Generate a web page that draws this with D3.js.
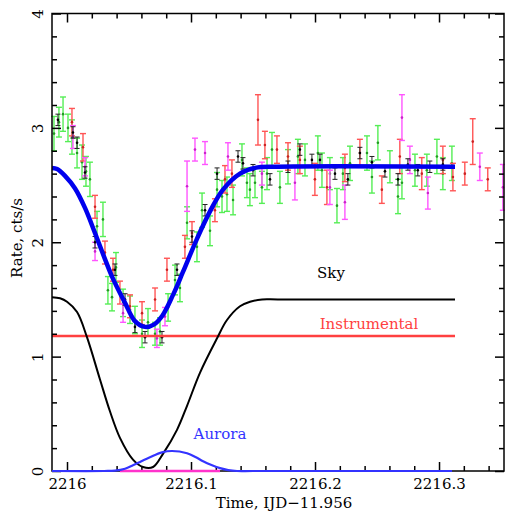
<!DOCTYPE html>
<html>
<head>
<meta charset="utf-8">
<script src="https://cdnjs.cloudflare.com/ajax/libs/d3/7.8.5/d3.min.js"></script>
<style>
  html, body { margin: 0; padding: 0; background: #fff; }
  svg { display: block; }
</style>
</head>
<body>
<script>
// ---------------- DATA ----------------
const xMajorTicks = [2216, 2216.1, 2216.2, 2216.3];
const xTickLabels = ["2216", "2216.1", "2216.2", "2216.3"];
const yMajorTicks = [0, 1, 2, 3, 4];
const yTickLabels = ["0", "1", "2", "3", "4"];

// green series: time, rate, error
const greenT = [2215.9895,2215.9935,2215.9968,2216.0008,2216.0040,2216.0081,2216.0121,2216.0153,2216.0185,2216.0242,2216.0290,2216.0330,2216.0363,2216.0395,2216.0452,2216.0508,2216.0548,2216.0605,2216.0653,2216.0710,2216.0750,2216.0815,2216.0871,2216.0911,2216.0968,2216.1048,2216.1089,2216.1153,2216.1210,2216.1250,2216.1290,2216.1339,2216.1411,2216.1451,2216.1475,2216.1516,2216.1572,2216.1613,2216.1653,2216.1717,2216.1782,2216.1862,2216.1919,2216.2023,2216.2056,2216.2120,2216.2177,2216.2225,2216.2282,2216.2419,2216.2459,2216.2507,2216.2604,2216.2669,2216.2701,2216.2806,2216.2902,2216.2983,2216.3031,2216.3104];
const greenV = [2.95,3.05,3.12,3.00,2.92,2.78,2.70,2.62,2.55,2.14,2.20,1.58,1.52,1.78,1.47,1.41,1.32,1.20,1.30,1.20,1.22,1.43,1.67,1.60,2.17,1.96,2.28,2.10,2.46,2.40,2.42,2.37,2.72,2.52,2.46,2.52,2.48,2.60,2.81,2.48,2.66,2.75,2.72,2.78,2.63,2.60,2.32,2.60,2.69,2.78,2.57,2.87,2.66,2.40,2.52,2.63,2.63,2.75,2.60,2.69];
const greenE = [0.15,0.13,0.15,0.12,0.15,0.13,0.15,0.13,0.15,0.13,0.15,0.12,0.12,0.13,0.12,0.12,0.12,0.12,0.12,0.10,0.12,0.12,0.13,0.12,0.14,0.13,0.15,0.13,0.15,0.14,0.15,0.13,0.14,0.13,0.14,0.13,0.14,0.14,0.15,0.14,0.15,0.15,0.14,0.15,0.15,0.14,0.15,0.14,0.15,0.15,0.14,0.15,0.14,0.15,0.14,0.14,0.14,0.15,0.14,0.15];

// red series
const redT = [2216.0040,2216.0129,2216.0226,2216.0306,2216.0371,2216.0427,2216.0508,2216.0605,2216.0710,2216.0806,2216.0951,2216.1008,2216.1193,2216.1274,2216.1330,2216.1540,2216.1596,2216.1693,2216.1782,2216.1878,2216.1999,2216.2096,2216.2241,2216.2362,2216.2539,2216.2684,2216.2861,2216.3031,2216.3112,2216.3208,2216.3272,2216.3393];
const redV = [3.05,2.83,2.31,1.91,1.76,1.56,1.44,1.38,1.50,1.76,1.96,2.08,2.28,2.55,2.60,3.07,2.85,2.81,2.75,2.72,2.55,2.48,2.65,2.78,2.46,2.75,2.60,2.72,2.57,2.60,2.88,2.55];
const redE = [0.12,0.12,0.10,0.10,0.10,0.10,0.10,0.10,0.10,0.10,0.10,0.10,0.10,0.12,0.12,0.22,0.12,0.12,0.12,0.12,0.14,0.15,0.12,0.12,0.12,0.15,0.14,0.12,0.12,0.10,0.20,0.10];

// magenta series
const magT = [2216.0048,2216.0145,2216.0226,2216.0452,2216.0725,2216.0790,2216.0968,2216.1032,2216.1113,2216.1298,2216.1572,2216.1838,2216.2120,2216.2241,2216.2701,2216.2765,2216.2910,2216.3329,2216.3515];
const magV = [2.92,2.66,1.92,1.38,1.16,1.35,2.49,2.81,2.78,2.75,2.60,2.52,2.48,2.35,3.09,2.72,2.43,2.66,2.48];
const magE = [0.10,0.08,0.08,0.08,0.08,0.08,0.22,0.10,0.10,0.12,0.10,0.15,0.15,0.15,0.20,0.12,0.14,0.12,0.20];

// black series
const blkT = [2215.9927,2216.0048,2216.0081,2216.0145,2216.0226,2216.0387,2216.0468,2216.0548,2216.0629,2216.0766,2216.0887,2216.1008,2216.1113,2216.1210,2216.1379,2216.1419,2216.1500,2216.1637,2216.1782,2216.1878,2216.1975,2216.2040,2216.2161,2216.2265,2216.2362,2216.2459,2216.2564,2216.2669,2216.2749,2216.2829,2216.2926,2216.3031];
const blkV = [3.07,2.96,2.87,2.61,2.00,1.76,1.50,1.26,1.17,1.17,1.76,2.05,2.28,2.60,2.75,2.69,2.63,2.55,2.66,2.81,2.72,2.72,2.60,2.55,2.78,2.70,2.62,2.55,2.68,2.63,2.66,2.68];
const blkE = [0.05,0.05,0.05,0.05,0.05,0.05,0.05,0.05,0.05,0.05,0.05,0.05,0.05,0.05,0.05,0.05,0.05,0.05,0.05,0.05,0.05,0.05,0.05,0.05,0.05,0.05,0.05,0.05,0.05,0.05,0.05,0.05];

// model curves
const totalT = [2215.9879,2215.9920,2215.9984,2216.0065,2216.0145,2216.0226,2216.0300,2216.0363,2216.0468,2216.0548,2216.0629,2216.0700,2216.0770,2216.0855,2216.0935,2216.1048,2216.1153,2216.1258,2216.1395,2216.1516,2216.1700,2216.3129];
const totalV = [2.65,2.64,2.58,2.47,2.30,2.08,1.87,1.70,1.47,1.31,1.26,1.28,1.36,1.54,1.74,2.03,2.27,2.46,2.60,2.65,2.66,2.66];

const skyT = [2215.9879,2215.9944,2216.0000,2216.0081,2216.0161,2216.0266,2216.0347,2216.0427,2216.0532,2216.0613,2216.0694,2216.0774,2216.0887,2216.0968,2216.1073,2216.1210,2216.1290,2216.1395,2216.1476,2216.1573,2216.1700,2216.3129];
const skyV = [1.52,1.51,1.48,1.39,1.17,0.80,0.52,0.29,0.10,0.035,0.035,0.15,0.36,0.57,0.86,1.16,1.32,1.44,1.48,1.50,1.50,1.50];

const instT = [2215.9879, 2216.3129];
const instV = [1.18, 1.18];

const auroraT = [2215.9879,2216.0300,2216.0387,2216.0468,2216.0532,2216.0600,2216.0669,2216.0766,2216.0847,2216.0968,2216.1040,2216.1097,2216.1170,2216.1234,2216.1300,2216.1371,2216.1500,2216.3105];
const auroraV = [0,0,0.003,0.02,0.05,0.085,0.12,0.163,0.175,0.155,0.12,0.085,0.05,0.025,0.008,0,0,0];

const zeroT = [2216.0427, 2216.1234];
const zeroV = [0, 0];

// ---------------- CHART ----------------
const W = 505, H = 517;
const L = 52, R = 504, T = 13.5, B = 471;
const svg = d3.select("body").append("svg").attr("width", W).attr("height", H);
svg.append("rect").attr("width", W).attr("height", H).attr("fill", "#fff");

const x = d3.scaleLinear().domain([2215.9879, 2216.3524]).range([L, R]);
const y = d3.scaleLinear().domain([0, 4]).range([B, T]);

const font = "'DejaVu Serif', serif";

// data points
function drawSeries(ts, vs, es, color, dotColor, hw, sw) {
  const g = svg.append("g");
  const pts = ts.map((t, i) => ({t, v: vs[i], e: es[i]}));
  const sel = g.selectAll("g").data(pts).join("g");
  sel.append("line")
    .attr("x1", d => x(d.t)).attr("x2", d => x(d.t))
    .attr("y1", d => y(d.v - d.e)).attr("y2", d => y(d.v + d.e))
    .attr("stroke", color).attr("stroke-width", sw);
  [1, -1].forEach(s => {
    sel.append("line")
      .attr("x1", d => x(d.t) - hw).attr("x2", d => x(d.t) + hw)
      .attr("y1", d => y(d.v + s * d.e)).attr("y2", d => y(d.v + s * d.e))
      .attr("stroke", color).attr("stroke-width", sw);
  });
  sel.append("circle")
    .attr("cx", d => x(d.t)).attr("cy", d => y(d.v)).attr("r", 1.3)
    .attr("fill", dotColor);
}
drawSeries(greenT, greenV, greenE, "#55ee55", "#229922", 3, 1.4);
drawSeries(redT, redV, redE, "#ff5555", "#cc2222", 3, 1.4);
drawSeries(magT, magV, magE, "#ff55ff", "#cc22cc", 3, 1.4);
drawSeries(blkT, blkV, blkE, "#222", "#000", 2.5, 1);

// model curves
const line = d3.line().x(d => x(d[0])).y(d => y(d[1])).curve(d3.curveCatmullRom.alpha(0.5));
function curve(ts, vs, color, w) {
  svg.append("path").datum(ts.map((t, i) => [t, vs[i]]))
    .attr("d", line).attr("fill", "none").attr("stroke", color)
    .attr("stroke-width", w).attr("stroke-linejoin", "round");
}
curve(instT, instV, "#ff4040", 2.5);
curve(skyT, skyV, "#000", 2);
curve(totalT, totalV, "#0000ee", 4.5);

// axes
const minor = d3.range(2216 - 0.02, 2216.36, 0.02).filter(v => v > 2215.9879 && v < 2216.35 && Math.abs(v*10 - Math.round(v*10)) > 1e-6);
const yMinor = d3.range(0.2, 4, 0.2).filter(v => Math.abs(v - Math.round(v)) > 1e-6);

function styleAxis(g) {
  g.select(".domain").remove();
  g.selectAll(".tick line").attr("stroke", "#000").attr("stroke-width", 1.5);
  g.selectAll("text").attr("font-family", font).attr("font-size", 15).attr("fill", "#000");
}
// bottom
svg.append("g").attr("transform", `translate(0,${B})`)
  .call(d3.axisBottom(x).tickValues(xMajorTicks).tickFormat((d, i) => xTickLabels[i]).tickSizeInner(-9).tickSizeOuter(0).tickPadding(7))
  .call(styleAxis);
svg.append("g").attr("transform", `translate(0,${B})`)
  .call(d3.axisBottom(x).tickValues(minor).tickFormat("").tickSizeInner(-5).tickSizeOuter(0))
  .call(styleAxis);
// top
svg.append("g").attr("transform", `translate(0,${T})`)
  .call(d3.axisTop(x).tickValues(xMajorTicks).tickFormat("").tickSizeInner(-9).tickSizeOuter(0))
  .call(styleAxis);
svg.append("g").attr("transform", `translate(0,${T})`)
  .call(d3.axisTop(x).tickValues(minor).tickFormat("").tickSizeInner(-5).tickSizeOuter(0))
  .call(styleAxis);
// left
const yl = svg.append("g").attr("transform", `translate(${L},0)`)
  .call(d3.axisLeft(y).tickValues(yMajorTicks).tickFormat((d, i) => yTickLabels[i]).tickSizeInner(-9).tickSizeOuter(0))
  .call(styleAxis);
yl.selectAll(".tick text").attr("x", null).attr("dy", null)
  .attr("text-anchor", "middle").attr("transform", "translate(-9,0) rotate(-90)");
svg.append("g").attr("transform", `translate(${L},0)`)
  .call(d3.axisLeft(y).tickValues(yMinor).tickFormat("").tickSizeInner(-5).tickSizeOuter(0))
  .call(styleAxis);
// right
svg.append("g").attr("transform", `translate(${R},0)`)
  .call(d3.axisRight(y).tickValues(yMajorTicks).tickFormat("").tickSizeInner(-9).tickSizeOuter(0))
  .call(styleAxis);
svg.append("g").attr("transform", `translate(${R},0)`)
  .call(d3.axisRight(y).tickValues(yMinor).tickFormat("").tickSizeInner(-5).tickSizeOuter(0))
  .call(styleAxis);

// frame
svg.append("rect").attr("x", L).attr("y", T).attr("width", R - L).attr("height", B - T)
  .attr("fill", "none").attr("stroke", "#000").attr("stroke-width", 1.5);

// zero-level components drawn over the bottom axis
curve(zeroT, zeroV, "#ff33cc", 2.5);
curve(auroraT, auroraV, "#3333ff", 2.2);

// titles
svg.append("text").attr("x", 284).attr("y", 508).attr("text-anchor", "middle")
  .attr("font-family", font).attr("font-size", 15).text("Time, IJD\u221211.956");
svg.append("text").attr("transform", "translate(22,238) rotate(-90)").attr("text-anchor", "middle")
  .attr("font-family", font).attr("font-size", 15).text("Rate, cts/s");

// component labels
svg.append("text").attr("x", 331).attr("y", 278).attr("text-anchor", "middle")
  .attr("font-family", font).attr("font-size", 15).attr("fill", "#000").text("Sky");
svg.append("text").attr("x", 369).attr("y", 329).attr("text-anchor", "middle")
  .attr("font-family", font).attr("font-size", 15).attr("fill", "#ff4040").text("Instrumental");
svg.append("text").attr("x", 220).attr("y", 439).attr("text-anchor", "middle")
  .attr("font-family", font).attr("font-size", 15).attr("fill", "#3333ff").text("Aurora");
</script>
</body>
</html>
